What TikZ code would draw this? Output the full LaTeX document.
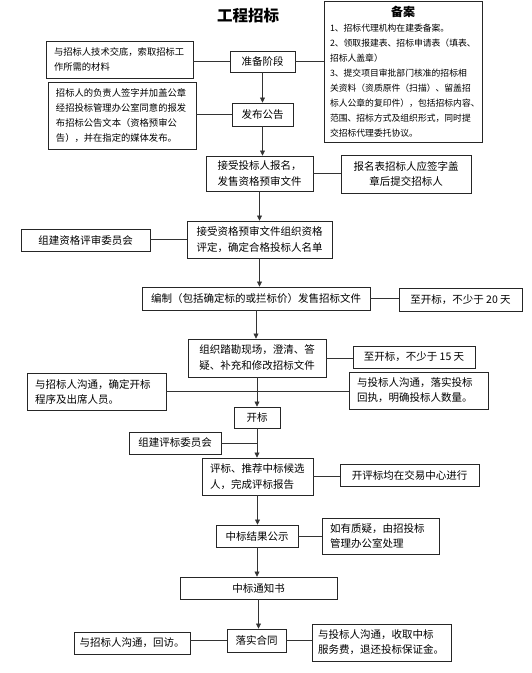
\documentclass[tikz,border=0pt]{standalone}
\usepackage{fontspec}
\setmainfont{Noto Sans CJK SC}
\usetikzlibrary{arrows.meta}

\begin{document}
\begin{tikzpicture}[x=1pt, y=-1pt,
    mainbox/.style={draw=black!85, line width=0.9pt, inner sep=0pt, align=center, font=\fontsize{10.5}{16}\selectfont},
    sidebox/.style={draw=black!85, line width=0.9pt, inner sep=0pt, align=center, font=\fontsize{10.5}{15}\selectfont},
    smalltext/.style={font=\fontsize{9.3}{15}\selectfont},
    link/.style={draw=black!80, line width=0.7pt},
    flow/.style={link, -{Triangle[length=5pt, width=5pt]}}]
    \useasboundingbox (0,0) rectangle (531,673);

    % Title
    \node[font=\fontsize{15.5}{18}\selectfont\bfseries] (title) at (248,16) {工程招标};

    % Main steps
    \node[mainbox, minimum width=65, minimum height=21] (prep) at (262.5,61.5) {准备阶段};
    \node[mainbox, minimum width=61, minimum height=23] (notice) at (262.5,114.5) {发布公告};
    \node[mainbox, minimum width=107, minimum height=35] (signup) at (259.5,173.5) {接受投标人报名，\\发售资格预审文件};
    \node[mainbox, minimum width=145, minimum height=37] (qualify) at (259.5,239.5) {接受资格预审文件组织资格\\评定，确定合格投标人名单};
    \node[mainbox, minimum width=228, minimum height=23] (compile) at (256,298.5) {编制（包括确定标的或拦标价）发售招标文件};
    \node[mainbox, minimum width=138, minimum height=38] (survey) at (257,358) {组织踏勘现场，澄清、答\\疑、补充和修改招标文件};
    \node[mainbox, minimum width=46, minimum height=21] (open) at (257,417.5) {开标};
    \node[mainbox, minimum width=111, minimum height=37, text width=95, align=left] (evaluate) at (257.5,476.5) {评标、推荐中标候选\\人，完成评标报告};
    \node[mainbox, minimum width=82, minimum height=22] (publicity) at (257,536) {中标结果公示};
    \node[mainbox, minimum width=157, minimum height=22] (award) at (258.5,588) {中标通知书};
    \node[mainbox, minimum width=59, minimum height=23] (contract) at (256.5,640.5) {落实合同};

    % Filing
    \node[sidebox, minimum width=158, minimum height=141, text width=146, align=left, font=\fontsize{8.8}{15}\selectfont] (record) at (403,71.5)
        {\makebox[\linewidth]{\fontsize{12}{14}\selectfont\bfseries 备案}\\
         1、招标代理机构在建委备案。\\
         2、领取报建表、招标申请表（填表、\\
         招标人盖章）\\
         3、提交项目审批部门核准的招标相\\
         关资料（资质原件（扫描）、留盖招\\
         标人公章的复印件），包括招标内容、\\
         范围、招标方式及组织形式，同时提\\
         交招标代理委托协议。};

    % Side notes
    \node[sidebox, smalltext, minimum width=147, minimum height=37, text width=131, align=left] (brief) at (119.5,59.5) {与招标人技术交底，索取招标工\\作所需的材料};
    \node[sidebox, smalltext, minimum width=148, minimum height=67, text width=132, align=left] (publish) at (122,115.5) {招标人的负责人签字并加盖公章\\经招投标管理办公室同意的报发\\布招标公告文本（资格预审公\\告），并在指定的媒体发布。};
    \node[sidebox, minimum width=130, minimum height=38] (signnote) at (406,174) {报名表招标人应签字盖\\章后提交招标人};
    \node[sidebox, minimum width=129, minimum height=22] (panel) at (85.5,240) {组建资格评审委员会};
    \node[sidebox, minimum width=123, minimum height=23] (twenty) at (460.5,299.5) {至开标，不少于 20 天};
    \node[sidebox, minimum width=122, minimum height=22] (fifteen) at (414,357) {至开标，不少于 15 天};
    \node[sidebox, minimum width=139, minimum height=37, text width=123, align=left] (tenderL) at (96.5,391.5) {与招标人沟通，确定开标\\程序及出席人员。};
    \node[sidebox, minimum width=139, minimum height=37, text width=123, align=left] (tenderR) at (418.5,390.5) {与投标人沟通，落实投标\\回执，明确投标人数量。};
    \node[sidebox, minimum width=92, minimum height=22] (jury) at (175,443) {组建评标委员会};
    \node[sidebox, minimum width=139, minimum height=22] (venue) at (409.5,475) {开评标均在交易中心进行};
    \node[sidebox, minimum width=117, minimum height=36, text width=101, align=left] (query) at (380.5,536) {如有质疑，由招投标\\管理办公室处理};
    \node[sidebox, minimum width=116, minimum height=22] (visit) at (132,643) {与招标人沟通，回访。};
    \node[sidebox, minimum width=139, minimum height=37, text width=127, align=left] (fee) at (381.5,642.5) {与投标人沟通，收取中标\\服务费，退还投标保证金。};

    % Plain links
    \draw[link] (brief.east |- prep.west) -- (prep.west);
    \draw[link] (prep.east) -- (prep.east -| record.west);
    \draw[link] (publish.east |- notice.west) -- (notice.west);
    \draw[link] (signup.east) -- (signup.east -| signnote.west);
    \draw[link] (panel.east |- qualify.west) -- (qualify.west);
    \draw[link] (compile.east) -- (compile.east -| twenty.west);
    \draw[link] (survey.east) -- (survey.east -| fifteen.west);
    \draw[link] (tenderL.east) -- (tenderL.east -| tenderR.west);
    \coordinate (juryjoin) at (jury.east -| open.south);
    \draw[link] (jury.east) -- (juryjoin);
    \draw[link] (evaluate.east) -- (evaluate.east -| venue.west);
    \draw[link] (publicity.east) -- (publicity.east -| query.west);
    \draw[link] (visit.east |- contract.west) -- (contract.west);
    \draw[link] (contract.east) -- (contract.east -| fee.west);

    % Flow arrows
    \foreach \a/\b in {prep/notice, notice/signup, signup/qualify, qualify/compile, compile/survey,
                       survey/open, open/evaluate, evaluate/publicity, publicity/award, award/contract}
        \draw[flow] (\a.south) -- (\a.south |- \b.north);
\end{tikzpicture}
\end{document}
